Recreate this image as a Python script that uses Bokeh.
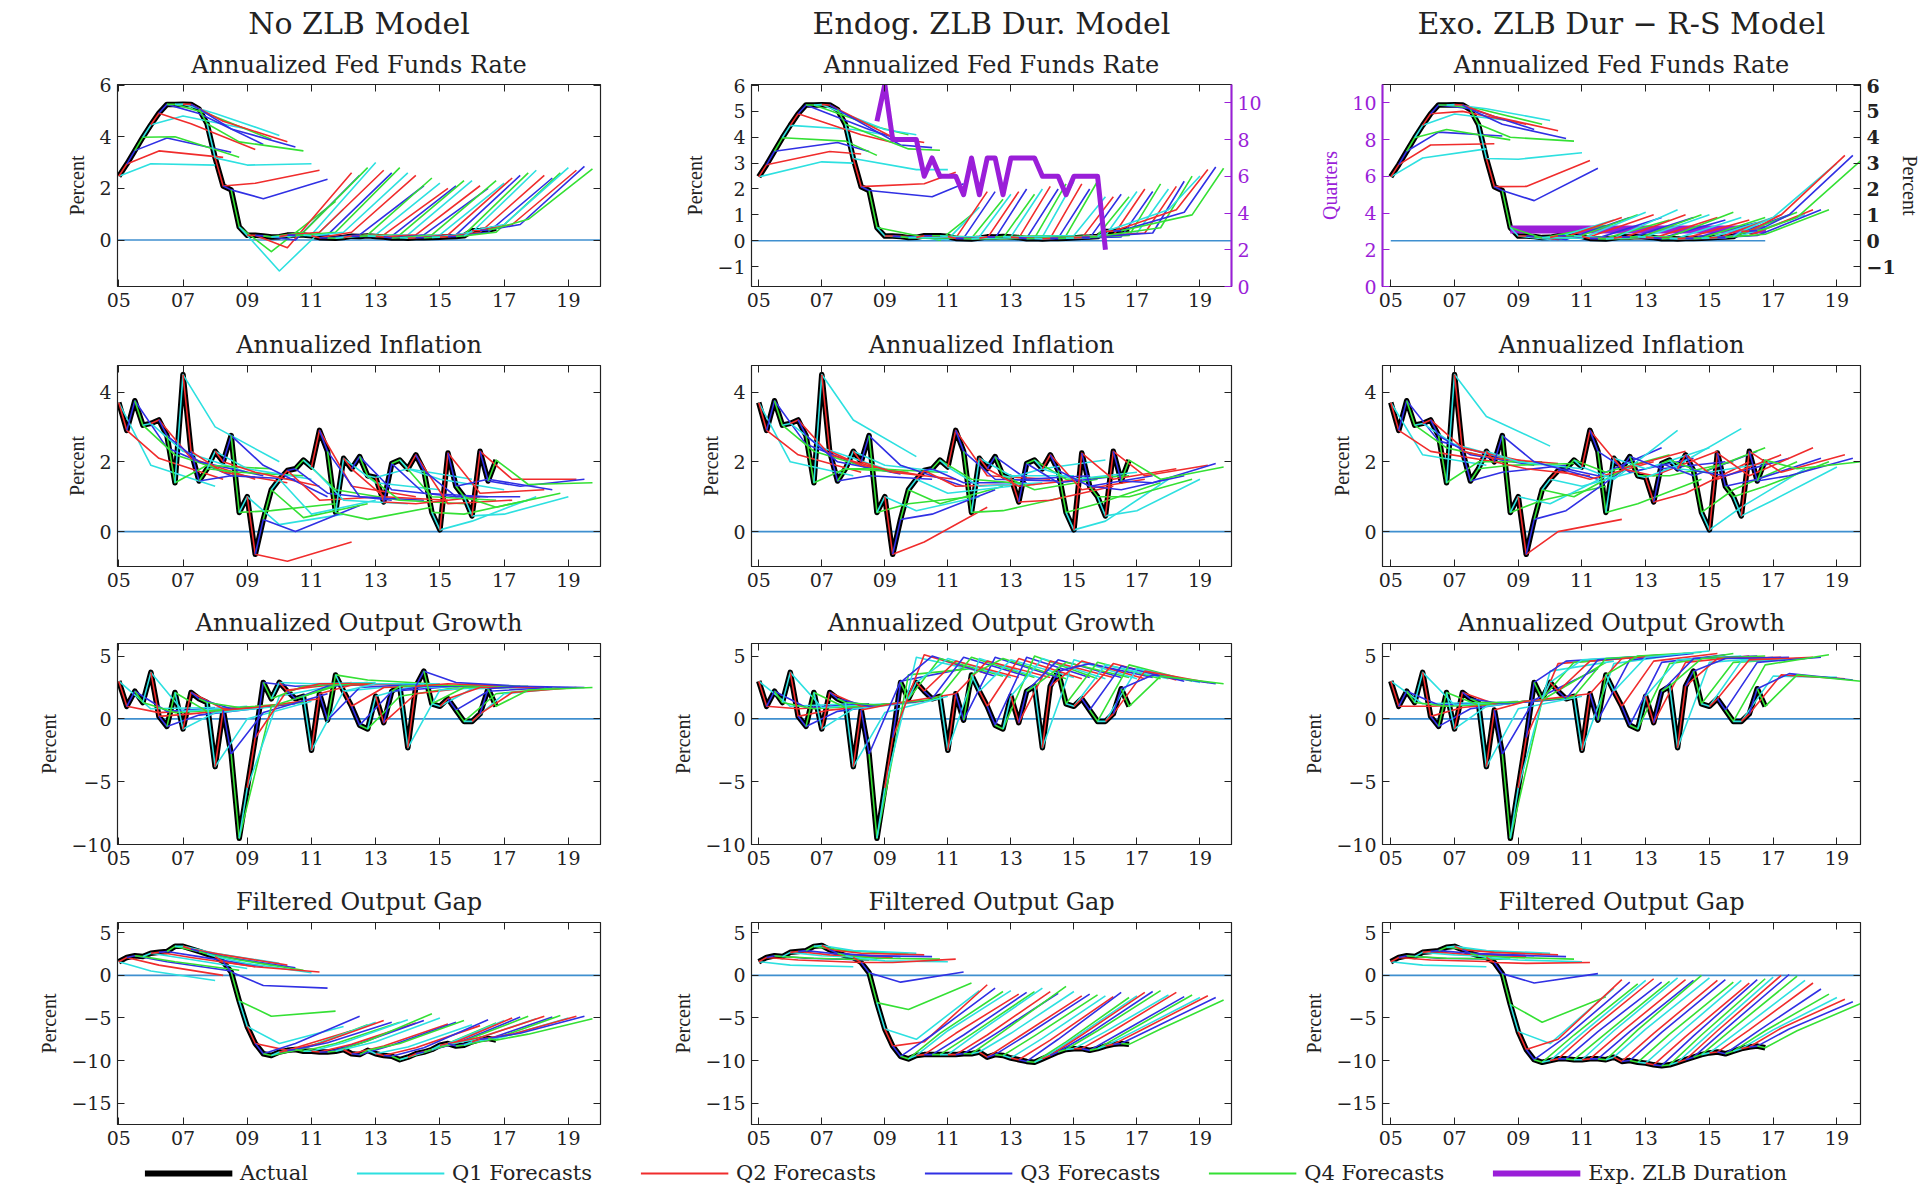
from bokeh.plotting import figure
from bokeh.models import Range1d, LinearAxis, Title, Span, Legend, LegendItem, FixedTicker
from bokeh.layouts import row, column
from bokeh.embed import file_html
from bokeh.resources import INLINE

# ---------------- time axis ----------------
first_year = 2005
n_quarters = 48
quarters = [first_year + k / 4 for k in range(n_quarters)]
horizon = 12
x_ticks = [2005, 2007, 2009, 2011, 2013, 2015, 2017, 2019]
x_tick_labels = ["05", "07", "09", "11", "13", "15", "17", "19"]

model_titles = ["No ZLB Model", "Endog. ZLB Dur. Model", "Exo. ZLB Dur \u2212 R-S Model"]
row_titles = ["Annualized Fed Funds Rate", "Annualized Inflation",
              "Annualized Output Growth", "Filtered Output Gap"]
legend_labels = ["Actual", "Q1 Forecasts", "Q2 Forecasts", "Q3 Forecasts",
                 "Q4 Forecasts", "Exp. ZLB Duration"]

# ---------------- actual series (2005Q1 .. 2016Q4) ----------------
ffr_actual = [2.47, 2.94, 3.46, 3.98, 4.46, 4.91, 5.25, 5.25, 5.26, 5.25, 5.07, 4.50,
              3.18, 2.09, 1.94, 0.51, 0.18, 0.18, 0.16, 0.12, 0.13, 0.19, 0.19, 0.19,
              0.16, 0.09, 0.08, 0.07, 0.10, 0.15, 0.14, 0.16, 0.14, 0.12, 0.08, 0.09,
              0.07, 0.09, 0.09, 0.10, 0.11, 0.13, 0.14, 0.16, 0.36, 0.37, 0.39, 0.45]
infl_actual = [3.7, 2.9, 3.75, 3.05, 3.1, 3.2, 2.75, 1.4, 4.5, 2.3, 1.45, 1.8,
               2.3, 2.0, 2.75, 0.55, 1.0, -0.65, 0.35, 1.2, 1.5, 1.75, 1.8, 2.05,
               1.85, 2.9, 2.3, 0.55, 2.1, 1.8, 2.15, 1.6, 1.55, 0.85, 1.95, 2.05,
               1.8, 2.2, 1.75, 0.55, 0.05, 2.25, 1.3, 1.0, 0.45, 2.3, 1.45, 2.05]
growth_actual = [3.0, 1.0, 2.2, 1.3, 3.7, 0.2, -0.6, 2.1, -0.8, 2.1, 1.6, 1.3,
                 -3.8, 0.7, -2.8, -9.5, -5.5, -1.5, 2.9, 1.6, 2.9, 2.2, 1.6, 1.8,
                 -2.5, 2.0, -0.1, 3.5, 2.2, 1.0, -0.5, -0.8, 1.8, -0.3, 2.2, 2.6,
                 -2.3, 2.6, 3.8, 1.2, 1.0, 1.6, 0.7, -0.2, -0.2, 0.4, 2.4, 1.0]
gap_nozlb_actual = [1.6, 2.1, 2.3, 2.2, 2.6, 2.7, 2.8, 3.4, 3.4, 3.1, 2.8, 2.5,
                    2.2, 1.6, 0.4, -3.0, -6.0, -8.0, -9.2, -9.4, -9.0, -8.8, -8.7, -8.9,
                    -8.9, -9.0, -9.0, -8.9, -8.7, -9.2, -9.3, -8.8, -9.2, -9.4, -9.5, -9.9,
                    -9.6, -9.2, -9.0, -8.7, -8.2, -8.0, -8.3, -8.2, -7.8, -7.5, -7.4, -7.6]
gap_endog_actual = [1.6, 2.1, 2.3, 2.2, 2.7, 2.8, 2.9, 3.4, 3.5, 3.0, 2.6, 2.3,
                    2.1, 1.5, 0.3, -3.2, -6.3, -8.3, -9.5, -9.8, -9.4, -9.3, -9.3, -9.3,
                    -9.3, -9.3, -9.2, -9.2, -9.0, -9.6, -9.3, -9.4, -9.7, -9.9, -10.1, -10.2,
                    -9.8, -9.4, -9.0, -8.7, -8.6, -8.6, -8.8, -8.6, -8.3, -8.1, -8.0, -8.1]
gap_exo_actual = [1.6, 2.1, 2.3, 2.2, 2.7, 2.8, 2.9, 3.3, 3.4, 3.0, 2.6, 2.3,
                  2.1, 1.5, 0.2, -3.4, -6.6, -8.7, -9.9, -10.2, -10.0, -9.8, -9.8, -9.9,
                  -9.9, -9.8, -9.8, -9.9, -9.6, -10.1, -10.0, -10.2, -10.3, -10.5, -10.6, -10.5,
                  -10.2, -9.9, -9.6, -9.3, -9.1, -9.0, -9.2, -8.9, -8.6, -8.4, -8.3, -8.5]

# expected ZLB duration (quarters): endogenous from 2008Q4 to 2016Q1, exogenous from 2008Q4
zlb_first_index = 15
zlb_dur_endog = [9.0, 11.0, 8.0, 8.0, 8.0, 8.0, 6.0, 7.0, 6.0, 6.0, 6.0, 5.0, 7.0, 5.0, 7.0,
                 7.0, 5.0, 7.0, 7.0, 7.0, 7.0, 6.0, 6.0, 6.0, 5.0, 6.0, 6.0, 6.0, 6.0, 2.0]
zlb_dur_exo = [3.1, 3.1, 3.1, 3.1, 3.1, 3.1, 3.1, 3.1, 3.1, 3.1, 3.1, 3.1, 3.1, 3.1, 3.1,
               3.1, 3.1, 3.1, 3.1, 3.1, 3.1, 3.1, 3.1, 3.1, 3.1, 3.1, 3.1, 3.1, 3.1, 3.1,
               3.1, 3.1, 3.1]

# ---------------- forecasts: value at a middle horizon and at 12 quarters ----------------
ffr_nozlb_h4 = [2.95, 3.45, 3.95, 4.0, 4.8, 4.5, 4.9, 4.9, 4.9, 4.6, 4.3, 3.8,
                2.9, 2.2, 1.6, -0.45, -1.2, -0.3, 0.0, 0.3, 0.2, 0.3, 0.2, 0.3,
                0.3, 0.3, 0.2, 0.2, 0.2, 0.2, 0.15, 0.2, 0.2, 0.2, 0.2, 0.2,
                0.2, 0.2, 0.2, 0.2, 0.3, 0.3, 0.3, 0.3, 0.6, 0.6, 0.6, 0.8]
ffr_nozlb_h12 = [2.9, 3.2, 3.4, 3.2, 4.3, 3.5, 3.7, 3.9, 4.05, 3.8, 3.6, 3.45,
                 2.95, 2.7, 2.35, 1.5, 1.2, 2.6, 2.5, 2.8, 3.0, 2.7, 2.6, 2.8,
                 2.6, 2.5, 2.1, 2.4, 2.2, 2.0, 2.1, 2.3, 2.3, 2.1, 2.0, 2.3,
                 2.2, 2.4, 2.5, 2.6, 2.7, 2.5, 2.4, 2.6, 2.8, 2.7, 2.85, 2.75]
ffr_endog_h8 = [3.05, 3.45, 3.8, 3.85, 4.3, 4.1, 4.3, 4.4, 4.3, 4.0, 3.7, 3.55,
                2.75, 2.2, 1.7, 0.02, 0.05, 0.1, 0.1, 0.1, 0.15, 0.1, 0.1, 0.1,
                0.15, 0.1, 0.1, 0.1, 0.15, 0.1, 0.1, 0.2, 0.2, 0.1, 0.1, 0.2,
                0.2, 0.2, 0.15, 0.2, 0.3, 0.3, 0.3, 0.5, 1.2, 1.2, 1.1, 1.0]
ffr_endog_h12 = [3.0, 3.35, 3.45, 3.3, 4.1, 3.8, 3.9, 4.1, 4.1, 3.8, 3.6, 3.5,
                 2.75, 2.65, 2.2, 1.0, 1.3, 1.9, 1.9, 1.6, 1.8, 1.9, 2.0, 1.8,
                 2.0, 2.1, 2.0, 2.2, 2.3, 2.2, 2.0, 2.3, 1.7, 1.7, 1.8, 1.7,
                 1.9, 2.0, 1.9, 2.2, 2.0, 2.1, 2.3, 2.5, 2.5, 2.75, 2.85, 2.8]
ffr_exo_h4 = [3.2, 3.7, 4.2, 4.3, 4.9, 5.0, 5.1, 5.1, 5.1, 4.8, 4.5, 4.0,
              3.15, 2.1, 1.55, 0.1, 0.05, 0.05, 0.05, 0.1, 0.1, 0.15, 0.1, 0.1,
              0.1, 0.1, 0.1, 0.1, 0.15, 0.1, 0.1, 0.15, 0.1, 0.1, 0.1, 0.1,
              0.1, 0.1, 0.1, 0.15, 0.2, 0.2, 0.2, 0.25, 0.9, 1.0, 1.0, 0.9]
ffr_exo_h12 = [3.55, 3.75, 4.05, 3.9, 4.6, 4.5, 4.3, 4.5, 4.65, 4.25, 3.95, 3.85,
               3.4, 3.1, 2.8, 0.6, 0.8, 0.9, 0.9, 1.0, 1.1, 1.0, 0.9, 0.8,
               1.2, 1.0, 0.9, 1.0, 1.0, 0.9, 0.8, 1.1, 0.9, 0.8, 0.7, 0.9,
               0.9, 1.0, 1.0, 1.1, 1.0, 1.2, 1.2, 1.2, 3.0, 3.3, 3.3, 3.1]

infl_nozlb_h4 = [1.9, 2.1, 2.4, 2.2, 2.3, 2.1, 2.0, 1.9, 3.0, 1.7, 1.6, 1.7,
                 1.8, 1.7, 1.9, 0.6, 0.2, -0.85, 0.0, 0.4, 0.5, 0.9, 1.1, 1.2,
                 0.9, 1.3, 1.0, 0.35, 1.4, 1.0, 1.2, 0.9, 1.8, 0.8, 1.1, 1.0,
                 1.5, 0.8, 1.0, 0.5, 0.3, 1.1, 1.5, 0.7, 0.5, 1.5, 1.3, 1.35]
infl_nozlb_h12 = [1.3, 1.5, 1.6, 1.6, 1.7, 1.5, 1.6, 1.8, 2.0, 1.4, 1.5, 1.6,
                  1.5, 1.3, 1.0, 0.8, 0.5, -0.3, 0.75, 0.8, 0.9, 1.0, 0.9, 0.9,
                  0.8, 1.0, 0.9, 0.7, 1.2, 0.9, 1.0, 0.8, 1.5, 1.0, 1.0, 0.9,
                  1.2, 0.9, 1.0, 0.9, 1.0, 1.2, 1.2, 1.1, 1.0, 1.5, 1.5, 1.4]
infl_endog_h4 = [2.0, 2.2, 2.5, 2.3, 2.4, 2.2, 2.0, 1.8, 3.2, 1.9, 1.6, 1.8,
                 1.9, 1.7, 1.9, 0.8, 0.6, -0.3, 0.5, 0.8, 1.1, 1.3, 1.4, 1.5,
                 1.3, 1.6, 1.5, 0.6, 1.6, 1.3, 1.5, 1.2, 1.8, 0.9, 1.4, 1.5,
                 1.5, 1.2, 1.3, 0.8, 0.3, 1.5, 1.2, 1.0, 0.6, 1.6, 1.4, 1.5]
infl_endog_h12 = [1.6, 1.7, 1.8, 1.75, 1.8, 1.7, 1.65, 1.7, 2.15, 1.6, 1.5, 1.7,
                  1.7, 1.5, 1.3, 1.0, 1.0, 0.7, 1.2, 1.3, 1.3, 1.35, 1.4, 1.35,
                  1.4, 1.5, 1.45, 1.0, 1.6, 1.5, 1.6, 1.5, 2.05, 1.3, 1.6, 1.6,
                  1.7, 1.5, 1.6, 1.4, 1.5, 1.8, 1.6, 1.5, 1.5, 1.9, 1.95, 1.85]
infl_exo_h4 = [2.2, 2.3, 2.6, 2.4, 2.5, 2.4, 2.2, 2.0, 3.3, 2.1, 1.7, 1.9,
               2.0, 1.8, 2.0, 0.9, 0.8, 0.0, 0.6, 1.0, 1.3, 1.5, 1.6, 1.7,
               1.5, 1.8, 1.7, 0.8, 1.8, 1.6, 1.8, 1.6, 1.9, 1.1, 1.6, 1.7,
               1.7, 1.5, 1.6, 1.2, 0.7, 1.6, 1.5, 1.3, 0.9, 1.7, 1.6, 1.8]
infl_exo_h12 = [1.9, 2.0, 2.1, 2.0, 2.0, 2.0, 1.9, 2.0, 2.45, 1.95, 1.9, 1.95,
                1.8, 1.6, 1.5, 1.3, 1.7, 0.35, 1.9, 2.0, 1.8, 2.0, 2.4, 2.2,
                2.9, 2.3, 2.1, 1.5, 2.4, 2.3, 2.0, 2.0, 2.95, 2.0, 2.3, 2.4,
                2.0, 2.2, 2.1, 2.0, 1.8, 2.4, 2.1, 2.0, 1.85, 2.2, 2.1, 2.0]

growth_nozlb_h4 = [0.8, 0.5, 0.6, 0.5, 0.6, 0.4, 0.3, 0.6, 0.5, 0.8, 0.8, 0.9,
                   0.0, 0.9, 0.5, 1.0, 1.8, 2.3, 2.6, 2.6, 2.8, 2.8, 2.6, 2.7,
                   2.2, 2.7, 2.5, 3.1, 2.8, 2.5, 2.2, 1.8, 2.5, 2.0, 2.6, 2.7,
                   2.3, 2.8, 2.9, 2.5, 2.4, 2.5, 2.2, 2.0, 2.0, 2.1, 2.6, 2.3]
growth_nozlb_h12 = [0.9, 0.8, 0.9, 0.8, 1.0, 0.9, 0.9, 1.0, 1.0, 1.1, 1.2, 1.3,
                    1.4, 1.6, 2.0, 2.6, 2.8, 2.9, 2.8, 2.9, 2.9, 2.8, 2.8, 2.8,
                    2.7, 2.8, 2.8, 2.8, 2.8, 2.7, 2.6, 2.6, 2.6, 2.6, 2.6, 2.6,
                    2.6, 2.6, 2.6, 2.6, 2.5, 2.5, 2.5, 2.5, 2.5, 2.5, 2.5, 2.5]
growth_endog_h4 = [1.0, 0.8, 0.9, 0.8, 0.9, 0.7, 0.6, 0.9, 0.8, 1.0, 1.0, 1.1,
                   0.5, 1.2, 3.0, 3.5, 4.9, 5.1, 5.0, 4.8, 4.8, 4.6, 4.9, 4.9,
                   4.8, 4.6, 4.9, 4.8, 4.7, 4.8, 4.9, 5.0, 4.8, 4.6, 4.7, 4.5,
                   4.7, 4.6, 4.4, 4.5, 4.3, 4.4, 4.2, 4.3, 4.0, 3.8, 3.5, 3.4]
growth_endog_h12 = [1.2, 1.1, 1.2, 1.1, 1.2, 1.2, 1.3, 1.3, 1.3, 1.4, 1.5, 1.6,
                    1.8, 2.0, 4.0, 4.0, 3.8, 3.6, 3.4, 3.4, 3.3, 3.3, 3.4, 3.3,
                    3.2, 3.3, 3.3, 3.2, 3.3, 3.2, 3.3, 3.2, 3.2, 3.3, 3.3, 3.3,
                    3.2, 3.2, 3.3, 3.2, 3.2, 3.1, 3.0, 3.0, 2.9, 2.9, 2.8, 2.8]
growth_exo_h4 = [1.2, 1.0, 1.1, 1.0, 1.1, 0.9, 0.8, 1.1, 1.0, 1.2, 1.2, 1.3,
                 0.8, 1.4, 1.5, 1.5, 3.8, 4.4, 4.6, 4.5, 4.7, 4.6, 4.7, 4.8,
                 4.4, 4.8, 4.7, 5.0, 4.9, 4.6, 4.5, 4.4, 4.7, 4.5, 4.8, 4.8,
                 4.5, 4.8, 4.8, 4.5, 4.6, 4.7, 4.5, 4.3, 3.4, 3.5, 3.6, 3.5]
growth_exo_h12 = [1.3, 1.2, 1.3, 1.2, 1.4, 1.4, 1.5, 1.5, 1.6, 1.6, 1.6, 1.7,
                  1.8, 2.0, 4.0, 4.5, 4.6, 4.8, 4.9, 4.9, 5.0, 5.0, 5.1, 5.1,
                  5.1, 5.2, 5.2, 5.3, 5.4, 5.2, 5.1, 5.2, 5.0, 5.0, 5.0, 5.0,
                  4.9, 4.9, 4.9, 4.8, 4.8, 4.9, 4.9, 5.1, 3.3, 3.2, 3.1, 3.0]

gap_nozlb_h4 = [0.5, 1.2, 1.6, 1.6, 2.0, 2.1, 2.2, 2.6, 2.6, 2.4, 2.0, 1.8,
                1.4, 1.0, -1.2, -4.8, -8.0, -8.8, -8.0, -8.6, -8.3, -8.0, -7.9, -8.0,
                -7.9, -8.1, -8.0, -7.7, -7.8, -8.3, -8.2, -8.0, -8.4, -8.5, -8.5, -8.8,
                -8.4, -8.2, -8.0, -7.7, -7.6, -7.3, -7.5, -7.4, -7.2, -6.9, -6.8, -6.9]
gap_nozlb_h12 = [-0.6, 0.0, 0.5, 0.6, 0.8, 1.0, 1.0, 1.2, 1.4, 1.2, 0.9, 0.6,
                 0.3, 0.4, -1.5, -4.2, -6.0, -6.5, -4.8, -5.8, -5.5, -5.3, -5.5, -5.5,
                 -5.2, -5.6, -5.3, -4.5, -5.0, -5.7, -5.5, -5.3, -5.8, -5.9, -5.2, -5.6,
                 -5.3, -5.0, -4.9, -4.8, -5.1, -4.8, -4.9, -4.7, -5.0, -4.8, -4.8, -5.1]
gap_endog_h4 = [1.2, 1.8, 2.0, 2.0, 2.3, 2.4, 2.5, 2.9, 2.9, 2.6, 2.3, 2.0,
                1.7, 1.5, -0.8, -4.0, -7.5, -7.8, -7.0, -6.8, -6.5, -6.8, -7.0, -6.9,
                -6.6, -7.0, -6.9, -6.6, -6.8, -7.2, -7.0, -7.1, -7.4, -7.6, -7.5, -7.8,
                -7.4, -7.0, -6.8, -6.5, -6.6, -6.5, -6.7, -6.5, -6.4, -6.2, -6.2, -6.3]
gap_endog_h12 = [1.0, 1.5, 1.8, 1.8, 2.0, 2.1, 2.2, 2.5, 2.6, 2.4, 2.2, 1.9,
                 1.6, 1.9, 0.4, -0.9, -1.8, -1.1, -1.5, -1.9, -1.8, -2.2, -2.0, -1.9,
                 -1.5, -1.9, -2.1, -1.3, -1.9, -2.4, -2.2, -2.3, -2.4, -2.5, -2.0, -2.6,
                 -2.4, -2.0, -1.9, -1.8, -2.3, -2.0, -2.5, -2.3, -2.6, -2.4, -2.6, -2.9]
gap_exo_h4 = [1.2, 1.8, 2.0, 2.0, 2.4, 2.5, 2.6, 2.9, 2.9, 2.7, 2.4, 2.1,
              1.8, 1.4, -0.9, -5.5, -8.0, -7.5, -7.2, -7.0, -6.8, -6.5, -6.6, -6.8,
              -6.5, -6.6, -6.6, -6.4, -6.3, -6.8, -6.7, -6.9, -7.0, -7.2, -7.1, -7.0,
              -6.8, -6.5, -6.3, -6.2, -6.3, -6.4, -6.6, -6.5, -6.4, -6.2, -6.3, -6.5]
gap_exo_h12 = [1.0, 1.6, 1.9, 1.9, 2.1, 2.2, 2.3, 2.5, 2.6, 2.4, 2.2, 1.9,
               1.6, 1.5, 0.2, -2.5, -1.5, -0.5, -0.8, -1.0, -0.6, -0.4, -0.8, -0.7,
               -0.3, -0.5, -0.6, 0.0, -0.3, -0.6, -0.5, -0.8, -0.6, -0.9, -0.5, -0.4,
               -0.2, 0.0, 0.1, -0.1, -0.6, -0.9, -1.6, -2.2, -2.6, -2.8, -3.1, -3.3]

# ---------------- styling / layout constants ----------------
FONT = "DejaVu Serif"
LABEL_FONT = "Liberation Serif"
TEXT = "#222222"
PURPLE = "#9a1ed8"
ZERO = "#3f8fcf"
Q_COLORS = ["#2de0e0", "#f02c2c", "#3030e4", "#34e034"]

panel_w = [660, 640, 631]
frame_lr = [(117, 60), (91, 69), (82, 71)]
row_h = [320, 279, 278, 279]
row_tb = [(84, 34), (45, 33), (44, 33), (45, 32)]
sub_standoff = [11, 13, 13, 13]
x_ranges = [(2004.96, 2020.0), (2004.77, 2020.0), (2004.74, 2019.74)]
y_ranges = [[(-1.8, 6.02), (-1.77, 6.04), (-1.77, 6.04)],
            [(-1.0, 4.76)] * 3, [(-10.0, 6.0)] * 3, [(-17.5, 6.2)] * 3]
y_ticks = [[[0, 2, 4, 6], [-1, 0, 1, 2, 3, 4, 5, 6], [-1, 0, 1, 2, 3, 4, 5, 6]],
           [[0, 2, 4]] * 3, [[-10, -5, 0, 5]] * 3, [[-15, -10, -5, 0, 5]] * 3]
quarter_ticks = [0, 2, 4, 6, 8, 10]
quarter_range = (0.0, 11.0)

x_overrides = {}
for t, lab in zip(x_ticks, x_tick_labels):
    x_overrides[t] = lab
    x_overrides[str(t)] = lab


def style_axis(ax, show_labels=True, color=TEXT, bold=False):
    ax.major_tick_in = 7
    ax.major_tick_out = 0
    ax.minor_tick_line_color = None
    ax.major_tick_line_color = color
    ax.axis_line_color = color
    ax.major_label_text_font = FONT
    ax.major_label_text_font_size = "19px" if show_labels else "1px"
    ax.major_label_text_color = color if show_labels else None
    ax.major_label_text_font_style = "bold" if bold else "normal"
    ax.major_label_standoff = 6 if show_labels else 0
    ax.axis_label_text_font = LABEL_FONT
    ax.axis_label_text_font_size = "20px"
    ax.axis_label_text_font_style = "normal"
    ax.axis_label_text_color = color
    ax.axis_label_standoff = 8


def make_panel(ci, ri, actual, fc_mid, fc_end, h_mid, dur=None, dur_side=None, dur_width=5):
    lb, rb = frame_lr[ci]
    tb, bb = row_tb[ri]
    pct_right = dur_side == "left"
    p = figure(width=panel_w[ci], height=row_h[ri],
               x_range=Range1d(*x_ranges[ci]), y_range=Range1d(*y_ranges[ri][ci]),
               output_backend="svg", toolbar_location=None, title=None,
               min_border_left=lb, min_border_right=rb,
               min_border_top=tb, min_border_bottom=bb,
               y_axis_location="right" if pct_right else "left")
    p.grid.visible = False
    p.outline_line_color = "#333333"
    p.outline_line_width = 1.2
    p.background_fill_color = "white"
    p.border_fill_color = "white"

    # zero reference line
    if pct_right:
        p.line([quarters[0], quarters[-1]], [0, 0], line_color=ZERO, line_width=1.6)
    else:
        p.add_layout(Span(location=0, dimension="width", line_color=ZERO,
                          line_width=1.6, level="underlay"))

    # actual series
    p.line(quarters, actual, line_color="black", line_width=5.5, line_join="round")

    if dur is not None:
        p.extra_y_ranges = {"quarters": Range1d(*quarter_range)}
        xs_d = quarters[zlb_first_index:zlb_first_index + len(dur)]
        if pct_right:
            p.line(xs_d, dur, y_range_name="quarters", line_color=PURPLE,
                   line_width=dur_width, line_join="round")

    # forecasts
    n = min(len(fc_mid), len(fc_end), len(actual))
    for i in range(n):
        xs, ys = [], []
        if i > 0:
            xs.append(quarters[i - 1])
            ys.append(actual[i - 1])
        xs += [quarters[i], quarters[i] + h_mid / 4, quarters[i] + horizon / 4]
        ys += [actual[i], fc_mid[i], fc_end[i]]
        p.line(xs, ys, line_color=Q_COLORS[i % 4], line_width=1.6, line_join="round")

    if dur is not None and not pct_right:
        p.line(xs_d, dur, y_range_name="quarters", line_color=PURPLE,
               line_width=dur_width, line_join="round")

    # x axes
    xa = p.xaxis[0]
    xa.ticker = FixedTicker(ticks=x_ticks)
    xa.major_label_overrides = x_overrides
    style_axis(xa)
    top = LinearAxis(ticker=FixedTicker(ticks=x_ticks))
    style_axis(top, show_labels=False)
    p.add_layout(top, "above")

    # y axes
    ya = p.yaxis[0]
    ya.ticker = FixedTicker(ticks=y_ticks[ri][ci])
    style_axis(ya, bold=pct_right)
    ya.axis_label = "Percent"
    if pct_right:
        ya.axis_label_standoff = 0
        qa = LinearAxis(y_range_name="quarters", ticker=FixedTicker(ticks=quarter_ticks),
                        axis_label="Quarters")
        style_axis(qa, color=PURPLE)
        qa.axis_line_width = 2
        p.add_layout(qa, "left")
    elif dur_side == "right":
        qa = LinearAxis(y_range_name="quarters", ticker=FixedTicker(ticks=quarter_ticks))
        style_axis(qa, color=PURPLE)
        qa.axis_line_width = 2
        p.add_layout(qa, "right")
    else:
        ra = LinearAxis(ticker=FixedTicker(ticks=y_ticks[ri][ci]))
        style_axis(ra, show_labels=False)
        p.add_layout(ra, "right")

    # titles
    p.add_layout(Title(text=row_titles[ri], align="center", text_font=FONT,
                       text_font_size="24px", text_font_style="normal",
                       text_color=TEXT, standoff=sub_standoff[ri]), "above")
    if ri == 0:
        p.add_layout(Title(text=model_titles[ci], align="center", text_font=FONT,
                           text_font_size="30px", text_font_style="normal",
                           text_color=TEXT, standoff=6), "above")
    return p


grid = [
    [make_panel(0, 0, ffr_actual, ffr_nozlb_h4, ffr_nozlb_h12, 4),
     make_panel(1, 0, ffr_actual, ffr_endog_h8, ffr_endog_h12, 8,
                dur=zlb_dur_endog, dur_side="right", dur_width=5),
     make_panel(2, 0, ffr_actual, ffr_exo_h4, ffr_exo_h12, 4,
                dur=zlb_dur_exo, dur_side="left", dur_width=8)],
    [make_panel(0, 1, infl_actual, infl_nozlb_h4, infl_nozlb_h12, 4),
     make_panel(1, 1, infl_actual, infl_endog_h4, infl_endog_h12, 4),
     make_panel(2, 1, infl_actual, infl_exo_h4, infl_exo_h12, 4)],
    [make_panel(0, 2, growth_actual, growth_nozlb_h4, growth_nozlb_h12, 4),
     make_panel(1, 2, growth_actual, growth_endog_h4, growth_endog_h12, 4),
     make_panel(2, 2, growth_actual, growth_exo_h4, growth_exo_h12, 4)],
    [make_panel(0, 3, gap_nozlb_actual, gap_nozlb_h4, gap_nozlb_h12, 4),
     make_panel(1, 3, gap_endog_actual, gap_endog_h4, gap_endog_h12, 4),
     make_panel(2, 3, gap_exo_actual, gap_exo_h4, gap_exo_h12, 4)],
]

# ---------------- legend strip ----------------
lf = figure(width=1931, height=34, x_range=Range1d(0, 1), y_range=Range1d(0, 1),
            output_backend="svg", toolbar_location=None, title=None,
            x_axis_location=None, y_axis_location=None, min_border=0)
lf.grid.visible = False
lf.outline_line_color = None
legend_styles = [("black", 6), (Q_COLORS[0], 2), (Q_COLORS[1], 2), (Q_COLORS[2], 2),
                 (Q_COLORS[3], 2), (PURPLE, 6)]
# legend-only renderers: a single point placed outside the (0, 1) view box
hidden_pt = [-5.0, -5.0]
items = []
for lab, (c, w) in zip(legend_labels, legend_styles):
    r = lf.line(x=hidden_pt, y=hidden_pt, line_color=c, line_width=w)
    items.append(LegendItem(label=lab, renderers=[r]))
leg = Legend(items=items, orientation="horizontal", location="center",
             glyph_width=88, glyph_height=20, label_standoff=8, spacing=48,
             label_text_font=FONT, label_text_font_size="21px", label_text_color=TEXT,
             border_line_color=None, background_fill_alpha=0, padding=0, margin=0)
lf.add_layout(leg, "center")

layout = column(*[row(*r, spacing=0) for r in grid], lf, spacing=0)
open("out.html", "w").write(file_html(layout, INLINE, "ZLB forecasts"))
